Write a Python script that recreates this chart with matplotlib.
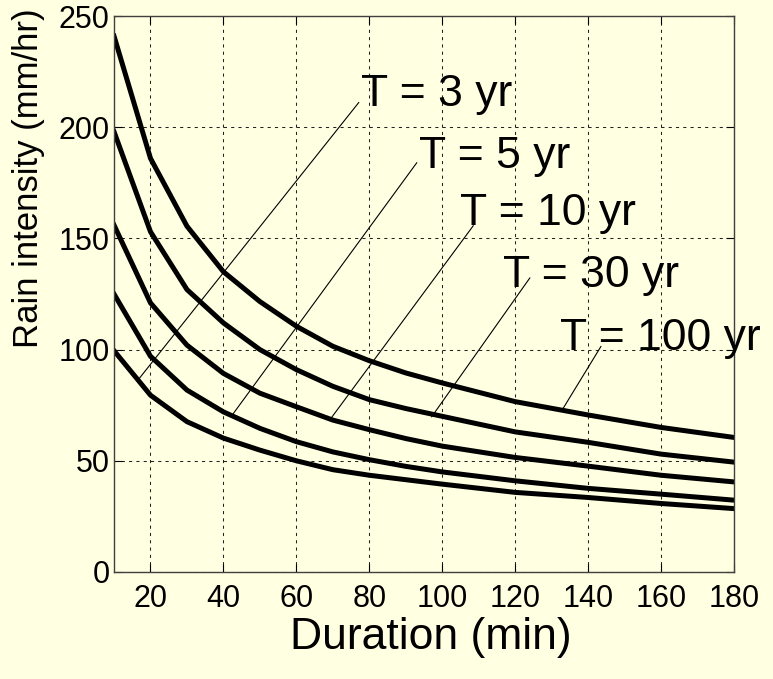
import matplotlib.pyplot as plt

# Rain intensity-duration-frequency curves
duration = [10, 20, 30, 40, 50, 60, 70, 80, 90, 100, 120, 140, 160, 180]
i_100yr = [241, 186, 155.5, 135, 121.6, 110.5, 101.5, 95, 89.5, 85, 76.6, 70.6, 65, 60.5]
i_30yr = [198, 153, 127, 112, 100, 91, 83.5, 77.5, 73.5, 70, 63, 58.3, 53, 49.4]
i_10yr = [156, 121, 102, 89.3, 80.4, 74.3, 68.3, 64, 60, 56.6, 51.5, 47.6, 43.5, 40.5]
i_5yr = [125, 97, 81.8, 72, 64.6, 58.6, 54, 50.5, 47.5, 45, 41, 37.6, 35, 32.3]
i_3yr = [99.5, 79.5, 67.6, 60.2, 54.8, 50, 46, 43.5, 41.5, 39.5, 35.8, 33.5, 30.8, 28.5]

labels = ["T = 3 yr", "T = 5 yr", "T = 10 yr", "T = 30 yr", "T = 100 yr"]
xticks = [20, 40, 60, 80, 100, 120, 140, 160, 180]
yticks = [0, 50, 100, 150, 200, 250]

bg = "#FFFFE1"
plt.rcParams["font.family"] = ["Liberation Sans", "DejaVu Sans"]

fig = plt.figure(figsize=(7.73, 6.79), dpi=100, facecolor=bg)
ax = fig.add_axes([0.1475, 0.1576, 0.8021, 0.8188], facecolor=bg)

for series in [i_100yr, i_30yr, i_10yr, i_5yr, i_3yr]:
    ax.plot(duration, series, color="black", linewidth=3.6, solid_joinstyle="miter")

# label text anchor (left, baseline) and leader line: label end -> curve end
label_pos = [(77.6, 209.5), (93.5, 181.7), (104.9, 156.2), (116.7, 128.1), (132.2, 99.9)]
leaders = [((77.1, 211.1), (16.9, 87.0)),
           ((93.0, 184.0), (42.6, 71.0)),
           ((108.5, 155.7), (69.8, 69.8)),
           ((124.0, 132.2), (97.1, 69.8)),
           ((143.5, 101.4), (133.0, 73.2))]

for text, (tx, ty), (p0, p1) in zip(labels, label_pos, leaders):
    ax.plot([p0[0], p1[0]], [p0[1], p1[1]], color="black", linewidth=0.8)
    ax.text(tx, ty, text, fontsize=32, ha="left", va="baseline")

ax.set_xlim(10, 180)
ax.set_ylim(0, 250)
ax.set_xticks(xticks)
ax.set_yticks(yticks)
ax.tick_params(direction="in", length=6, top=True, right=True, labelsize=22, pad=3)
ax.tick_params(axis="x", pad=9)
ax.grid(True, color="#222222", linestyle=(0, (3, 4)), linewidth=0.75)
for s in ax.spines.values():
    s.set_color("#404040")
    s.set_linewidth(1.0)

ax.set_xlabel("Duration (min)", fontsize=32)
ax.set_ylabel("Rain intensity (mm/hr)", fontsize=25)
ax.xaxis.set_label_coords(0.511, -0.081)
ax.yaxis.set_label_coords(-0.112, 0.709)

fig.savefig("out.png", dpi=100, facecolor=bg)
